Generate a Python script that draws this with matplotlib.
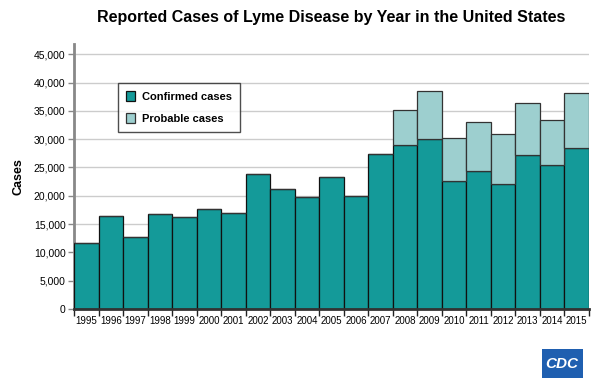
import matplotlib.pyplot as plt
import numpy as np
from matplotlib.patches import Rectangle

years = [str(y) for y in range(1995, 2016)]
confirmed = [11700, 16455, 12801, 16801, 16273, 17730, 17029, 23763, 21273, 19804,
             23305, 19931, 27444, 28921, 29959, 22561, 24364, 22014, 27203, 25359, 28453]
probable = [0, 0, 0, 0, 0, 0, 0, 0, 0, 0,
            0, 0, 0, 6277, 8509, 7599, 8733, 8817, 9104, 8102, 9616]

plt.rcParams['font.family'] = ['Liberation Sans', 'DejaVu Sans']

fig = plt.figure(figsize=(6, 3.9), dpi=100)
ax = fig.add_axes([0.1233, 0.2077, 0.8584, 0.6793])

x = np.arange(len(years))
ax.bar(x, confirmed, width=1.0, color='#149a99', edgecolor='#111111', linewidth=0.9,
       label='Confirmed cases', zorder=3)
ax.bar(x, probable, width=1.0, bottom=confirmed, color='#9dcfcf', edgecolor='#333333',
       linewidth=0.9, label='Probable cases', zorder=3)

ax.set_xlim(-0.5, len(years) - 0.5)
ax.set_ylim(0, 46800)
ax.set_yticks(np.arange(0, 45001, 5000))
ax.set_yticklabels([f"{v:,}" for v in range(0, 45001, 5000)], fontsize=7.5)
ax.yaxis.grid(True, color='#cccccc', linewidth=1, zorder=0)

ax.set_xticks(x)
ax.set_xticklabels(years, fontsize=7)
ax.set_xticks(np.arange(-0.5, len(years), 1.0), minor=True)
ax.tick_params(axis='x', which='major', length=0, pad=5)
ax.tick_params(axis='x', which='minor', length=5, width=1, color='#222222')
ax.tick_params(axis='y', length=4, width=1, color='#888888', pad=2)

for s in ['top', 'right']:
    ax.spines[s].set_visible(False)
ax.spines['left'].set_color('#888888')
ax.spines['left'].set_linewidth(2)
ax.spines['bottom'].set_color('#333333')
ax.spines['bottom'].set_linewidth(2)
ax.spines['bottom'].set_zorder(4)

ax.set_ylabel('Cases', fontsize=9, fontweight='bold', labelpad=7)

leg = ax.legend(loc='upper left', bbox_to_anchor=(0.075, 0.875), fontsize=8,
                frameon=True, fancybox=False, handlelength=0.8, handleheight=1.0,
                borderpad=0.75, labelspacing=1.0, handletextpad=0.6)
leg.get_frame().set_edgecolor('#222222')
leg.get_frame().set_linewidth(1)
for t in leg.get_texts():
    t.set_fontweight('bold')

fig.text(0.552, 0.955, 'Reported Cases of Lyme Disease by Year in the United States',
         ha='center', va='center', fontsize=11.5, fontweight='bold')

# CDC logo
fig.patches.append(Rectangle((0.903, 0.03), 0.068, 0.075, transform=fig.transFigure,
                             facecolor='#1f5fb0', edgecolor='none'))
fig.text(0.937, 0.067, 'CDC', ha='center', va='center', fontsize=11,
         fontweight='bold', color='white', style='italic')

plt.savefig('out.png', dpi=100)
